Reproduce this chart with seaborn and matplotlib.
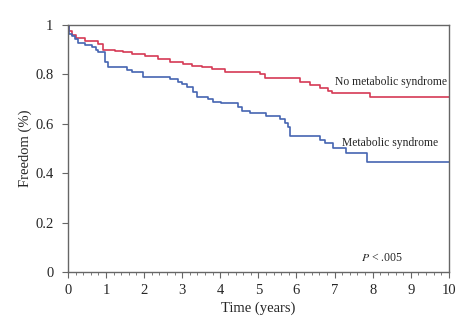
import numpy as np
import pandas as pd
import seaborn as sns
import matplotlib.pyplot as plt
from matplotlib.ticker import MultipleLocator, FuncFormatter

# Kaplan-Meier step curves (time of drop, new freedom value)
no_mets_time = [0, 0.03, 0.1, 0.2, 0.45, 0.8, 0.92, 1.23, 1.44, 1.67, 2.02, 2.36,
                2.68, 3.02, 3.25, 3.51, 3.77, 4.12, 5.04, 5.17, 6.09, 6.35, 6.61,
                6.82, 6.93, 7.93, 10]
no_mets_surv = [1, 0.975, 0.96, 0.946, 0.935, 0.923, 0.90, 0.895, 0.889, 0.881,
                0.874, 0.861, 0.851, 0.842, 0.835, 0.829, 0.821, 0.811, 0.80, 0.784,
                0.768, 0.758, 0.746, 0.734, 0.725, 0.707, 0.707]

mets_time = [0, 0.03, 0.1, 0.19, 0.27, 0.45, 0.62, 0.75, 0.8, 0.97, 1.06, 1.54,
             1.67, 1.98, 2.68, 2.9, 3.0, 3.12, 3.29, 3.38, 3.68, 3.81, 4.03, 4.47,
             4.56, 4.78, 5.21, 5.56, 5.7, 5.78, 5.83, 6.61, 6.75, 6.96, 7.31, 7.84, 10]
mets_surv = [1, 0.965, 0.955, 0.942, 0.929, 0.919, 0.912, 0.90, 0.889, 0.851, 0.831,
             0.818, 0.811, 0.790, 0.781, 0.768, 0.76, 0.75, 0.73, 0.71, 0.699, 0.689,
             0.683, 0.669, 0.653, 0.645, 0.633, 0.618, 0.602, 0.588, 0.551, 0.534,
             0.521, 0.501, 0.48, 0.447, 0.447]

group_labels = ["No metabolic syndrome", "Metabolic syndrome"]
colors = {"No metabolic syndrome": "#d63a55", "Metabolic syndrome": "#4565b2"}

df = pd.concat([
    pd.DataFrame({"time": no_mets_time, "freedom": no_mets_surv, "group": group_labels[0]}),
    pd.DataFrame({"time": mets_time, "freedom": mets_surv, "group": group_labels[1]}),
])

sns.set_style("ticks")
plt.rcParams['font.family'] = ['Liberation Serif', 'DejaVu Serif']
plt.rcParams['mathtext.fontset'] = 'stix'

f, ax = plt.subplots(figsize=(4.75, 3.3), dpi=100)
f.subplots_adjust(left=0.143, right=0.945, bottom=0.176, top=0.924)

for g in group_labels:
    sub = df[df["group"] == g]
    sns.lineplot(data=sub, x="time", y="freedom", color=colors[g], estimator=None,
                 drawstyle="steps-post", linewidth=1.2, ax=ax, legend=False)

ax.text(9.95, 0.768, "No metabolic syndrome", ha="right", va="center", fontsize=8.4)
ax.text(9.71, 0.524, "Metabolic syndrome", ha="right", va="center", fontsize=8.4)
ax.text(8.24, 0.057, r"$\mathit{P}$ < .005", ha="center", va="center", fontsize=8.5)

ax.set_xlim(0, 10)
ax.set_ylim(0, 1)
ax.xaxis.set_major_locator(MultipleLocator(1))
ax.xaxis.set_minor_locator(MultipleLocator(0.2))
ax.yaxis.set_major_locator(MultipleLocator(0.2))
ax.yaxis.set_major_formatter(FuncFormatter(lambda v, p: f"{v:g}"))

for s in ax.spines.values():
    s.set_visible(True)
    s.set_color("#666666")
    s.set_linewidth(1.0)
ax.tick_params(axis="both", which="major", length=4, width=0.8, color="#666666",
               labelsize=10.5, direction="out")
ax.tick_params(axis="x", which="major", pad=5)
ax.tick_params(axis="y", which="major", pad=6.5)
ax.tick_params(axis="x", which="minor", length=2, width=0.6, color="#666666")

ax.set_xlabel("Time (years)", fontsize=10.5, labelpad=3)
ax.set_ylabel("Freedom (%)", fontsize=10.5, labelpad=2)

plt.savefig("out.png", dpi=100)
